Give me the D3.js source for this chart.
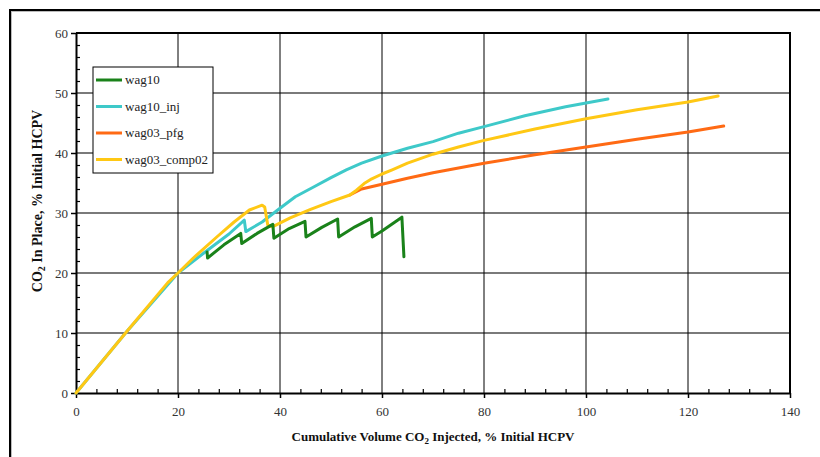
<!DOCTYPE html>
<html>
<head>
<meta charset="utf-8">
<script src="https://cdn.jsdelivr.net/npm/d3@7"></script>
<style>
  body { margin: 0; background: #fff; }
  svg { display: block; font-family: "Liberation Serif", "Times New Roman", serif; }
</style>
</head>
<body>
<div id="chart"></div>
<script>
// series values [x, y]
const wag10 = [[25.7,23.5],[25.8,22.5],[29,24.7],[32.3,26.6],[32.5,24.9],[35.5,26.6],[38.6,28.1],[38.8,25.8],
  [41.8,27.4],[44.9,28.6],[45.1,26],[48.2,27.6],[51.3,29],[51.5,26],[54.7,27.7],[57.9,29.1],[58.1,26],
  [60,27],[63.9,29.3],[64.3,22.7]];
const wag10_inj = [[0,0],[10,10.3],[20,20],[25,23.3],[30,26.5],[33,28.8],[33.3,26.9],[36.5,28.5],[40,30.8],
  [43,32.7],[46.5,34.3],[50,35.9],[53,37.2],[56,38.3],[60,39.5],[65,40.8],[70,41.9],[75,43.3],[80,44.4],
  [88,46.2],[96,47.7],[104.3,49]];
const wag03_pfg = [[53.7,33],[56,34],[60,34.8],[65,35.8],[70,36.7],[80,38.3],[90,39.7],[100,41],[110,42.3],[120,43.5],[127,44.5]];
const wag03_comp02 = [[0,0],[10,10.3],[18,18.4],[20,20],[23,22.5],[27.6,26],[31,28.5],[34,30.5],[36.5,31.3],
  [37,31],[37.6,28],[38.5,27.7],[42,29.2],[46,30.6],[50,31.9],[53.7,33],[55,33.8],[56.5,34.9],[58,35.7],
  [60,36.5],[62,37.2],[65,38.3],[70,39.8],[75,41],[80,42.1],[90,44],[100,45.7],[110,47.2],[120,48.5],[125.9,49.5]];

const seriesNames = ["wag10","wag10_inj","wag03_pfg","wag03_comp02"];
const seriesData = [wag10, wag10_inj, wag03_pfg, wag03_comp02];
const seriesColors = ["#1a821a","#3ec9c9","#ff6a14","#ffc814"];

const xTicks = [0,20,40,60,80,100,120,140];
const yTicks = [0,10,20,30,40,50,60];

const W = 820, H = 457;
const plot = {left: 76, top: 33, right: 790, bottom: 393};

const svg = d3.select("#chart").append("svg")
    .attr("width", W).attr("height", H);

// outer frame
svg.append("path")
    .attr("d", `M11,${H} V11 H${W}`)
    .attr("fill","none").attr("stroke","#bbb").attr("stroke-width",2);
svg.append("path")
    .attr("d", `M10,${H} V10 H${W}`)
    .attr("fill","none").attr("stroke","#000").attr("stroke-width",2);

const x = d3.scaleLinear().domain([0,140]).range([plot.left, plot.right]);
const y = d3.scaleLinear().domain([0,60]).range([plot.bottom, plot.top]);

// grid
svg.append("g").selectAll("line").data(yTicks.slice(1,-1)).enter().append("line")
    .attr("x1", plot.left).attr("x2", plot.right)
    .attr("y1", d => y(d)).attr("y2", d => y(d))
    .attr("stroke","#7a7a7a").attr("stroke-width",2);
svg.append("g").selectAll("line").data(xTicks.slice(1,-1)).enter().append("line")
    .attr("y1", plot.top).attr("y2", plot.bottom)
    .attr("x1", d => x(d)).attr("x2", d => x(d))
    .attr("stroke","#000").attr("stroke-width",1);

// plot frame (top/right)
svg.append("path")
    .attr("d", `M${plot.left},${plot.top} H${plot.right} V${plot.bottom}`)
    .attr("fill","none").attr("stroke","#000").attr("stroke-width",2);

// minor ticks (inside)
const xMinor = d3.range(0,141,4).filter(d => d%20!==0);
const yMinor = d3.range(0,61,2).filter(d => d%10!==0);
svg.append("g")
    .attr("transform",`translate(0,${plot.bottom})`)
    .call(d3.axisBottom(x).tickValues(xMinor).tickSize(-4).tickFormat(""))
    .call(g => g.select(".domain").remove())
    .selectAll("line").attr("stroke","#000").attr("stroke-width",1.2);
svg.append("g")
    .attr("transform",`translate(${plot.left},0)`)
    .call(d3.axisLeft(y).tickValues(yMinor).tickSize(-4).tickFormat(""))
    .call(g => g.select(".domain").remove())
    .selectAll("line").attr("stroke","#000").attr("stroke-width",1.2);

// main axes
const xAxis = svg.append("g")
    .attr("transform",`translate(0,${plot.bottom})`)
    .call(d3.axisBottom(x).tickValues(xTicks).tickSizeInner(5).tickSizeOuter(0).tickPadding(9));
const yAxis = svg.append("g")
    .attr("transform",`translate(${plot.left},0)`)
    .call(d3.axisLeft(y).tickValues(yTicks).tickSizeInner(5).tickSizeOuter(0).tickPadding(3));
[xAxis, yAxis].forEach(a => {
  a.select(".domain").attr("stroke","#000").attr("stroke-width",2);
  a.selectAll(".tick line").attr("stroke","#000").attr("stroke-width",1.5);
  a.selectAll("text").attr("font-family","Liberation Serif, serif").attr("font-size",13).attr("fill","#333");
});

// lines
const lineLin = d3.line().x(d => x(d[0])).y(d => y(d[1]));
// draw order: cyan, orange, yellow, green
[1,2,3,0].forEach(i => {
  svg.append("path")
      .datum(seriesData[i])
      .attr("d", lineLin)
      .attr("fill","none")
      .attr("stroke", seriesColors[i])
      .attr("stroke-width",3)
      .attr("stroke-linejoin","round")
      .attr("stroke-linecap","round");
});

// legend
const lg = svg.append("g").attr("transform","translate(93,67)");
lg.append("rect").attr("width",120).attr("height",106)
    .attr("fill","#fff").attr("stroke","#000").attr("stroke-width",1);
seriesNames.forEach((n,i) => {
  const yy = 13 + i*26.5;
  lg.append("line").attr("x1",3).attr("x2",29).attr("y1",yy).attr("y2",yy)
      .attr("stroke",seriesColors[i]).attr("stroke-width",3);
  lg.append("text").attr("x",32).attr("y",yy+4)
      .attr("font-size",13).attr("fill","#222").text(n);
});

// axis titles
const xt = svg.append("text")
    .attr("x", 433).attr("y", 441)
    .attr("text-anchor","middle")
    .attr("font-size",13).attr("font-weight","bold").attr("fill","#111");
xt.append("tspan").text("Cumulative Volume CO");
xt.append("tspan").attr("font-size",9).attr("dy",3).text("2");
xt.append("tspan").attr("dy",-3).text(" Injected, % Initial HCPV");

const yt = svg.append("text")
    .attr("transform","translate(42,201) rotate(-90)")
    .attr("text-anchor","middle")
    .attr("font-size",14).attr("font-weight","bold").attr("fill","#111");
yt.append("tspan").text("CO");
yt.append("tspan").attr("font-size",10).attr("dy",3).text("2");
yt.append("tspan").attr("dy",-3).text(" In Place, % Initial HCPV");
</script>
</body>
</html>
